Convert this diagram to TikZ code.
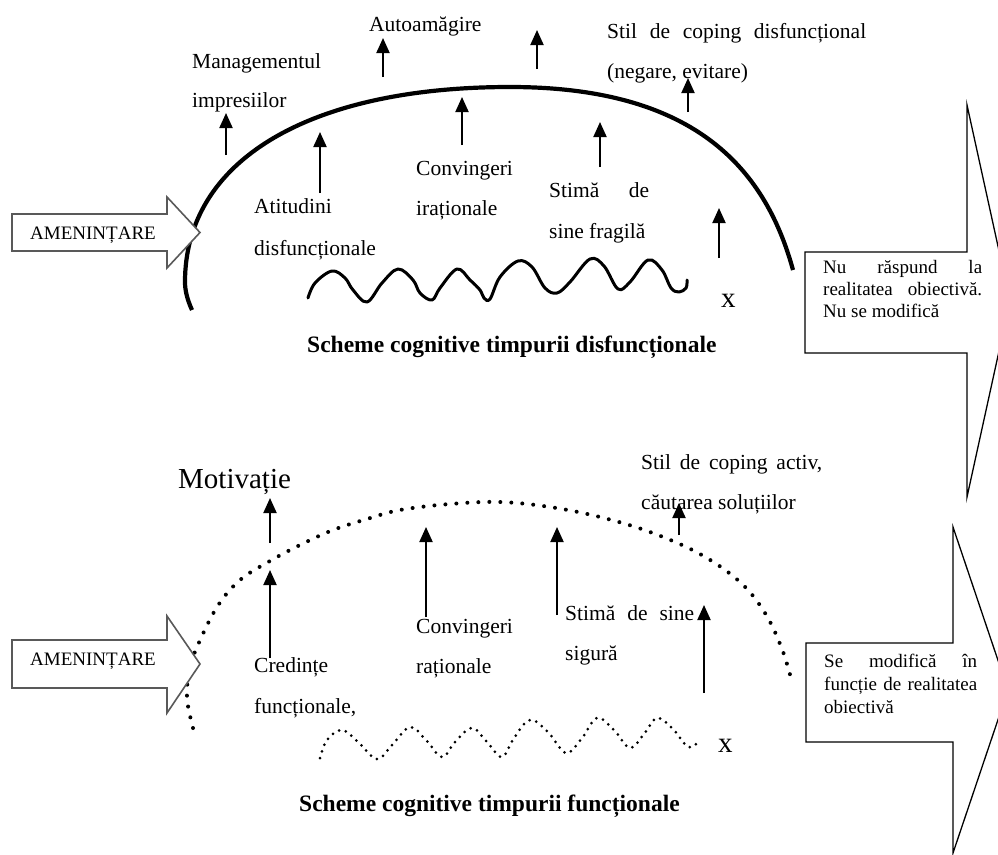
\documentclass[tikz,border=0pt]{standalone}
\usepackage{fontspec}
\setmainfont{Liberation Serif}
\usetikzlibrary{arrows.meta}
\begin{document}
\begin{tikzpicture}[x=1pt,y=-1pt,
  up/.style={line width=2pt,-{Triangle[width=13pt,length=15pt]}},
  lbl/.style={anchor=base west,inner sep=0pt,font=\fontsize{21.5}{26}\selectfont},
  big/.style={anchor=base west,inner sep=0pt,font=\fontsize{29}{34}\selectfont},
  boxtxt/.style={anchor=base west,inner sep=0pt,font=\fontsize{19}{23}\selectfont},
  heading/.style={anchor=base west,inner sep=0pt,font=\fontsize{23.5}{28}\selectfont\bfseries},
  threat/.style={draw=black!65,line width=1.6pt,fill=white,line join=miter},
  outcome/.style={draw=black,line width=1.3pt,fill=white,line join=miter},
  solidarc/.style={line width=4.2pt},
  solidwave/.style={line width=3pt,line join=round,line cap=round},
  dotarc/.style={line width=4pt,line cap=round,dash pattern=on 0pt off 11pt},
  dotwave/.style={line width=3pt,line cap=round,dash pattern=on 0pt off 7pt},
]
\useasboundingbox (0,0) rectangle (998,854);
\clip (0,0) rectangle (998,854);

% ---------- dysfunctional schemas (upper half) ----------
\draw[solidarc] (192,310) .. controls (187,299) and (185,290) .. (185,282)
  .. controls (185,161) and (308,87) .. (510,87)
  .. controls (690,87) and (764,164) .. (793,270);

\draw[solidwave] plot[smooth,tension=0.6] coordinates {
  (308,298) (315,283) (332,271) (345,278) (353,290) (367,302) (382,283)
  (398,269) (413,280) (420,293) (432,300) (440,288) (457,269) (470,280)
  (480,290) (484,298) (490,299) (500,277) (518,261) (532,267) (545,288)
  (557,293) (570,282) (590,259) (604,266) (618,289) (630,282) (648,260)
  (662,270) (671,288) (679,292) (686,288) (687,280)};

\foreach \n/\x/\ya/\yb in {a1/226/155/113, a2/320/193/132, a3/383/77/38,
    a4/462/145/97, a5/537/69/30, a6/600/167/122, a7/688/112/78, a8/719/258/208} {
  \coordinate (\n-s) at (\x,\ya);
  \coordinate (\n-e) at (\x,\yb);
  \draw[up] (\n-s) -- (\n-e);
}

\node[lbl] (autoam) at (369,31) {Autoamăgire};
\node[lbl] (mgmt1) at (192,68) {Managementul};
\node[lbl] (mgmt2) at (192,107) {impresiilor};
\node[lbl] (atit1) at (254,213) {Atitudini};
\node[lbl] (atit2) at (254,255) {disfuncționale};
\node[lbl] (conv1) at (416,175) {Convingeri};
\node[lbl] (conv2) at (416,215) {iraționale};
\node[lbl] (stim1) at (549,197) {\makebox[100pt][s]{Stimă de}};
\node[lbl] (stim2) at (549,238) {sine fragilă};
\node[lbl] (cop1) at (607,38) {\makebox[259pt][s]{Stil de coping disfuncțional}};
\node[lbl] (cop2) at (607,78) {(negare, evitare)};
\node[big] (xtop) at (721,307) {x};
\node[heading] (head1) at (307,352) {Scheme cognitive timpurii disfuncționale};

\draw[threat] (12,214) -- (167,214) -- (167,197) -- (200,232.5) -- (167,268)
  -- (167,251) -- (12,251) -- cycle;
\node[boxtxt] (thr1) at (30,239) {AMENINȚARE};

\draw[outcome] (805,252) -- (967,252) -- (967,105) -- (1010,301) -- (967,497)
  -- (967,353) -- (805,353) -- cycle;
\node[boxtxt] (out1a) at (823,273) {\makebox[159pt][s]{Nu răspund la}};
\node[boxtxt] (out1b) at (823,295) {\makebox[159pt][s]{realitatea obiectivă.}};
\node[boxtxt] (out1c) at (823,317) {Nu se modifică};

% ---------- functional schemas (lower half) ----------
\draw[dotarc] plot[smooth,tension=0.6] coordinates {
  (193,728) (188,706) (187,688) (190,668) (197,647) (217,607) (240,580)
  (270,561) (300,545) (333,530) (367,519) (400,510) (450,504) (500,502)
  (550,507) (600,517) (650,532) (700,554) (740,582) (765,613) (782,649)
  (792,682)};

\draw[dotwave] plot[smooth,tension=0.6] coordinates {
  (320,758) (327,740) (342,730) (358,742) (377,759) (392,745) (410,727)
  (426,740) (442,757) (455,742) (472,728) (487,742) (502,757) (514,738)
  (530,720) (548,732) (566,753) (582,738) (597,718) (614,730) (630,748)
  (644,734) (657,718) (673,729) (688,747) (698,742)};

\foreach \n/\x/\ya/\yb in {b1/270/543/498, b2/270/658/570, b3/426/617/527,
    b4/557/615/527, b5/679/535/503, b6/704/693/605} {
  \coordinate (\n-s) at (\x,\ya);
  \coordinate (\n-e) at (\x,\yb);
  \draw[up] (\n-s) -- (\n-e);
}

\node[big] (motiv) at (178,488) {Motivație};
\node[lbl] (cred1) at (254,672) {Credințe};
\node[lbl] (cred2) at (254,713) {funcționale,};
\node[lbl] (rconv1) at (416,633) {Convingeri};
\node[lbl] (rconv2) at (416,673) {raționale};
\node[lbl] (sstim1) at (565,620) {\makebox[129pt][s]{Stimă de sine}};
\node[lbl] (sstim2) at (565,660) {sigură};
\node[lbl] (act1) at (641,469) {\makebox[181pt][s]{Stil de coping activ,}};
\node[lbl] (act2) at (641,509) {căutarea soluțiilor};
\node[big] (xbot) at (718,752) {x};
\node[heading] (head2) at (299,811) {Scheme cognitive timpurii funcționale};

\draw[threat] (12,640) -- (167,640) -- (167,616) -- (200,664) -- (167,713)
  -- (167,688) -- (12,688) -- cycle;
\node[boxtxt] (thr2) at (30,665) {AMENINȚARE};

\draw[outcome] (806,643) -- (953,643) -- (953,527) -- (1008,690) -- (953,853)
  -- (953,742) -- (806,742) -- cycle;
\node[boxtxt] (out2a) at (824,667) {\makebox[153pt][s]{Se modifică în}};
\node[boxtxt] (out2b) at (824,690) {\makebox[153pt][s]{funcție de realitatea}};
\node[boxtxt] (out2c) at (824,713) {obiectivă};
\end{tikzpicture}
\end{document}
